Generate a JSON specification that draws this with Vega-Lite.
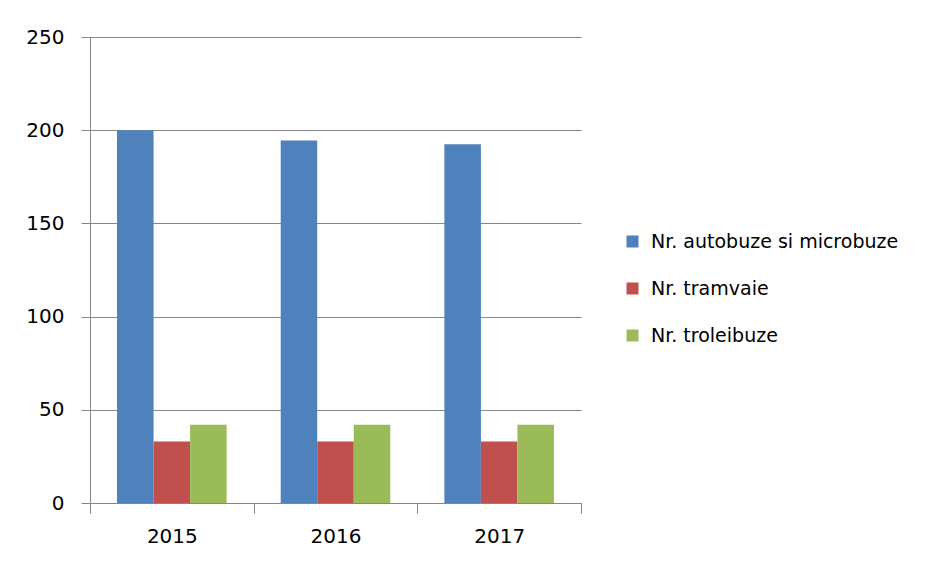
{
  "$schema": "https://vega.github.io/schema/vega-lite/v6.json",
  "autosize": "none",
  "width": 491,
  "height": 466,
  "padding": {"left": 90, "top": 37, "right": 350, "bottom": 59},
  "background": "white",
  "config": {
    "view": {"stroke": null},
    "font": "DejaVu Sans",
    "axis": {"labelFont": "DejaVu Sans", "labelColor": "#000000", "labelFontSize": 20, "domainColor": "#868686", "tickColor": "#868686", "gridColor": "#868686", "title": null}
  },
  "data": {
    "values": [
      {"year": "2015", "series": "Nr. autobuze si microbuze", "value": 200},
      {"year": "2015", "series": "Nr. tramvaie", "value": 33},
      {"year": "2015", "series": "Nr. troleibuze", "value": 42},
      {"year": "2016", "series": "Nr. autobuze si microbuze", "value": 194.5},
      {"year": "2016", "series": "Nr. tramvaie", "value": 33},
      {"year": "2016", "series": "Nr. troleibuze", "value": 42},
      {"year": "2017", "series": "Nr. autobuze si microbuze", "value": 192.5},
      {"year": "2017", "series": "Nr. tramvaie", "value": 33},
      {"year": "2017", "series": "Nr. troleibuze", "value": 42}
    ]
  },
  "mark": {"type": "bar"},
  "encoding": {
    "x": {
      "field": "year", "type": "nominal",
      "scale": {"paddingInner": 0, "paddingOuter": 0},
      "axis": {"labelAngle": 0, "tickBand": "extent", "tickSize": 10, "labelPadding": 13, "grid": false}
    },
    "xOffset": {
      "field": "series", "type": "nominal",
      "sort": ["Nr. autobuze si microbuze", "Nr. tramvaie", "Nr. troleibuze"],
      "scale": {"paddingInner": 0, "paddingOuter": 0.74}
    },
    "y": {
      "field": "value", "type": "quantitative",
      "scale": {"domain": [0, 250], "nice": false},
      "axis": {"values": [0, 50, 100, 150, 200, 250], "tickSize": 9, "labelPadding": 17, "grid": true}
    },
    "color": {
      "field": "series", "type": "nominal",
      "scale": {
        "domain": ["Nr. autobuze si microbuze", "Nr. tramvaie", "Nr. troleibuze"],
        "range": ["#4F81BD", "#C0504D", "#9BBB59"]
      },
      "legend": {
        "title": null,
        "orient": "none",
        "legendX": 533,
        "legendY": 195,
        "symbolType": "square",
        "symbolSize": 144,
        "symbolStrokeWidth": 0,
        "symbolOpacity": 1,
        "labelFont": "DejaVu Sans",
        "labelFontSize": 19,
        "labelColor": "#000000",
        "labelOffset": 9,
        "labelLimit": 400,
        "rowPadding": 27
      }
    }
  }
}
